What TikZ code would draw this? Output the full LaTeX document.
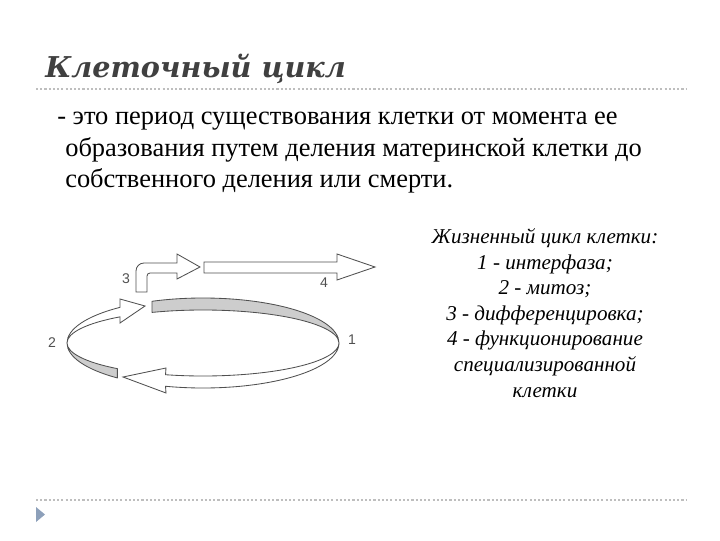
\documentclass[tikz,border=0pt]{standalone}
\usepackage{fontspec}
\setmainfont{Liberation Serif}
\newfontfamily\titlefont{DejaVu Serif}
\newfontfamily\numfont{Liberation Sans}
\definecolor{titlegray}{RGB}{64,64,64}
\definecolor{rulegray}{RGB}{190,190,190}
\definecolor{bulletblue}{RGB}{141,160,186}
\definecolor{bandgray}{RGB}{205,205,205}
\definecolor{linegray}{RGB}{80,80,80}

\begin{document}
\begin{tikzpicture}[x=0.025cm,y=0.025cm,
  band/.style={draw=linegray,line width=0.6pt,fill=bandgray,line join=round},
  flow/.style={draw=linegray,line width=0.6pt,fill=white,line join=miter},
  numlabel/.style={font=\numfont\fontsize{10}{12}\selectfont,text=linegray,inner sep=0pt},
  sep/.style={rulegray,line width=1pt,dash pattern=on 1.5pt off 1.5pt}]
\useasboundingbox (0,0) rectangle (720,540);

\node[anchor=base west,inner sep=0pt,text=titlegray,font=\titlefont\bfseries\itshape\fontsize{20.4}{24}\selectfont] (title) at (45,462) {Клеточный цикл};
\draw[sep] (36,451) -- (686,451);

\node[anchor=base west,inner sep=0pt,font=\fontsize{18.8}{22}\selectfont] (def1) at (57,415) {- это период существования клетки от момента ее};
\node[anchor=base west,inner sep=0pt,font=\fontsize{18.8}{22}\selectfont] (def2) at (65,383) {образования путем деления материнской клетки до};
\node[anchor=base west,inner sep=0pt,font=\fontsize{18.8}{22}\selectfont] (def3) at (65,352) {собственного деления или смерти.};

\node[anchor=base,inner sep=0pt,align=center,font=\itshape\fontsize{15}{18.2}\selectfont] (legend) at (545,143)
  {Жизненный цикл клетки:\\ 1 - интерфаза;\\ 2 - митоз;\\ 3 - дифференцировка;\\ 4 - функционирование\\ специализированной\\ клетки};

\begin{scope}[shift={(203,197)}]
\draw[band] (112:136 and 45) arc[start angle=112,end angle=0,x radius=136,y radius=45]
  arc[start angle=0,end angle=112,x radius=136,y radius=33] -- cycle;
\draw[band] (180:136 and 45) arc[start angle=180,end angle=231,x radius=136,y radius=45]
  -- (231:136 and 33) arc[start angle=231,end angle=180,x radius=136,y radius=33] -- cycle;
\draw[flow] (0:136 and 45) arc[start angle=360,end angle=254,x radius=136,y radius=45]
  -- (-37,-50) -- (-80,-34) -- (-37,-25) -- (254:136 and 33)
  arc[start angle=254,end angle=360,x radius=136,y radius=33] -- cycle;
\draw[flow] (180:136 and 45) arc[start angle=180,end angle=127.6,x radius=136,y radius=45]
  -- (-83,44) -- (-58,37) -- (-83,20) -- (127.6:136 and 33)
  arc[start angle=127.6,end angle=180,x radius=136,y radius=33] -- cycle;
\end{scope}

\draw[flow] (136,248) -- (136,269) arc[start angle=180,end angle=90,radius=8] -- (177,277)
  -- (177,286) -- (200,273) -- (177,261) -- (177,267) -- (150,267)
  arc[start angle=90,end angle=180,radius=3] -- (147,248) -- cycle;
\draw[flow] (204,278) -- (337,278) -- (337,286) -- (375,273) -- (337,260) -- (337,267) -- (204,267) -- cycle;

\node[numlabel] (n1) at (352,200) {1};
\node[numlabel] (n2) at (52,197) {2};
\node[numlabel] (n3) at (126,261) {3};
\node[numlabel] (n4) at (324,257) {4};

\draw[sep] (36,40) -- (686,40);
\fill[bulletblue] (36,33) -- (45,25.5) -- (36,18) -- cycle;

\end{tikzpicture}
\end{document}
